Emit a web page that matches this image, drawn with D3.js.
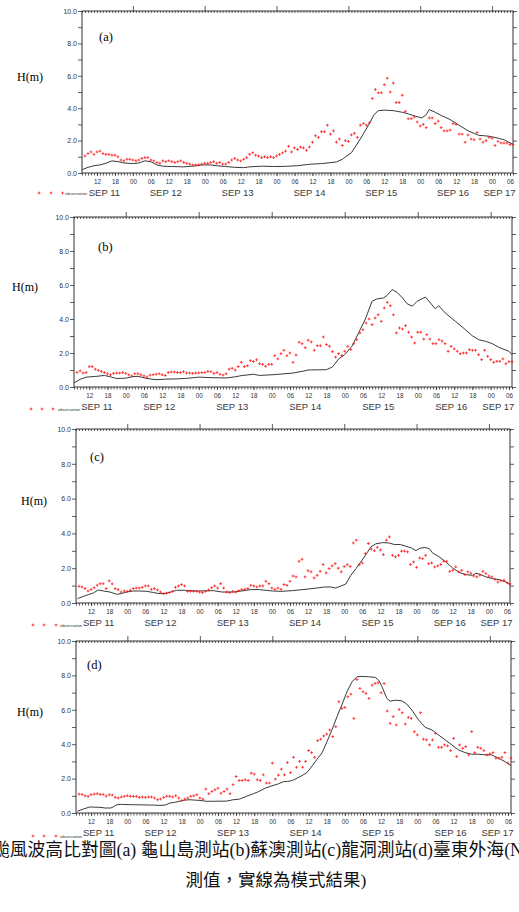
<!DOCTYPE html>
<html>
<head>
<meta charset="utf-8">
<script src="https://cdn.jsdelivr.net/npm/d3@7"></script>
<style>
  body { margin: 0; background: #fff; }
  svg { display: block; }
</style>
</head>
<body>
<script>
// hours are counted from SEP 11 00:00; the plots run from SEP 11 07 to SEP 17 07
const hourDomain = [7, 151];
const dayNames = ["SEP 11", "SEP 12", "SEP 13", "SEP 14", "SEP 15", "SEP 16", "SEP 17"];
const yTicks = [0, 1, 2, 3, 4, 5, 6, 7, 8, 9, 10];
const obsStart = 8; // first hourly observation

// observations, hourly from SEP 11 08 to SEP 17 07
const obsA = [
  1.05, 1.2, 1.3, 1.15, 1.3, 1.35, 1.2, 1.15, 1.15, 1.1,
  1.1, 1.0, 0.8, 0.75, 0.85, 0.85, 0.8, 0.75, 0.8, 0.9,
  0.95, 0.95, 0.8, 0.75, 0.65, 0.6, 0.75, 0.7, 0.75, 0.7,
  0.65, 0.7, 0.75, 0.65, 0.6, 0.55, 0.5, 0.5, 0.5, 0.55,
  0.6, 0.6, 0.65, 0.7, 0.6, 0.65, 0.55, 0.55, 0.65, 0.8,
  0.9, 0.8, 0.75, 0.85, 0.95, 1.15, 1.25, 1.1, 1.05,
  0.95, 1.0, 0.95, 1.0, 0.95, 1.05, 1.15, 1.25, 1.35, 1.65,
  1.3, 1.55, 1.45, 1.6, 1.55, 1.4, 1.6, 1.9, 2.3, 2.2,
  2.55, 2.55, 2.95, 2.4, 2.6, 1.9, 2.1, 1.7, 2.0, 1.95,
  2.35, 2.45, 2.2, 2.95, 3.05, 2.95, 3.1, 4.6, 5.15, 4.95,
  4.95, 5.45, 5.85, 5.0, 5.55, 4.35, 4.35, 4.8, 3.8, 3.35,
  3.35, 3.45, 3.15, 2.9, 3.0, 2.8, 3.4, 3.4, 3.05, 3.2,
  2.8, 2.6, 2.6, 2.65, 3.05, 3.0, 2.4, 2.4, 1.9, 2.35,
  2.1, 2.05, 2.5, 2.1, 1.9, 2.0, 2.2, 2.15, 1.7, 1.95,
  1.85, 1.85, 1.85, 1.75, 1.75
];
const obsB = [
  0.86, 0.95, 0.82, 0.85, 1.2, 1.2, 1.05, 0.98, 0.92, 0.85,
  0.78, 0.72, 0.8, 0.82, 0.82, 0.85, 0.8, 0.72, 0.65, 0.78,
  0.78, 0.72, 0.65, 0.58, 0.7, 0.72, 0.75, 0.78, 0.72, 0.68,
  0.85, 0.88, 0.88, 0.85, 0.85, 0.9, 0.82, 0.82, 0.8, 0.82,
  0.83, 0.85, 0.85, 0.92, 0.9, 0.8, 0.85, 0.75, 0.7, 0.78,
  1.05, 1.1, 1.0, 1.2, 1.45, 1.2, 1.25, 1.55, 1.5, 1.6,
  1.37, 1.33, 1.22, 1.33, 1.33, 1.84, 1.65, 1.96, 2.16, 1.84,
  2.0, 1.45, 1.88, 2.63, 2.55, 2.31, 2.75, 2.65, 2.16, 2.43,
  2.43, 2.94, 2.5, 2.4, 2.08, 1.76, 1.96, 1.85, 2.1, 2.39,
  2.2, 2.55, 2.78, 3.18, 3.37, 3.76, 4.0, 3.67, 4.06, 4.25,
  3.86, 4.65, 4.98, 4.78, 4.25, 3.18, 3.47, 3.41, 3.61, 3.22,
  2.94, 2.59, 3.22, 3.22, 2.82, 3.08, 2.82, 2.55, 2.55, 2.78,
  2.7, 2.55, 2.1, 2.39, 2.24, 2.1, 1.96, 2.0, 2.0, 2.2,
  2.16, 2.16, 1.9, 1.61, 2.16, 1.8, 1.61, 1.45, 1.51, 1.51,
  1.65, 1.37, 1.49, 1.49
];
const obsC = [
  0.96, 0.92, 0.83, 0.69, 0.78, 0.88, 1.02, 1.11, 1.11, 0.83,
  1.27, 1.1, 0.83, 0.77, 0.63, 0.69, 0.67, 0.73, 0.83, 0.86,
  0.86, 0.9, 0.98, 0.98, 0.79, 0.83, 0.75, 0.63, 0.54, 0.56,
  0.6, 0.67, 0.9, 0.98, 1.06, 0.98, 0.67, 0.67, 0.67, 0.67,
  0.63, 0.6, 0.67, 0.75, 0.88, 0.98, 0.86, 1.11, 0.86, 0.63,
  0.6, 0.67, 0.63, 0.71, 0.77, 0.79, 0.83, 1.02, 0.98, 0.92,
  0.98, 0.98, 1.25, 1.11, 0.86, 0.79, 0.86, 0.79, 1.06, 1.02,
  1.25, 1.55, 1.5, 2.4, 2.51, 1.5, 1.86, 1.79, 1.44, 1.59,
  1.82, 2.21, 1.73, 1.98, 2.13, 2.26, 2.0, 1.79,
  2.1, 2.2, 2.1, 3.45, 3.61, 2.2, 2.3, 2.84, 3.42, 3.1,
  3.0, 3.2, 3.05, 2.78, 3.61, 3.8, 2.74, 2.65, 2.74, 2.98,
  2.98, 2.94, 2.21, 2.36, 2.05, 2.59, 2.55, 2.74, 2.26, 2.3,
  2.07, 2.13, 2.21, 2.4, 2.4, 1.82, 1.88, 2.07, 1.79, 1.88,
  1.63, 1.79, 1.71, 1.55, 1.5, 1.6, 1.82, 1.69, 1.55, 1.5,
  1.36, 1.21, 1.29, 1.31, 1.17, 1.1
];
const obsD = [
  1.1, 1.08, 1.0, 0.97, 1.07, 1.1, 1.12, 1.08, 1.08, 0.98,
  1.06, 1.04, 0.91, 0.87, 0.93, 0.97, 1.0, 0.97, 0.97, 0.97,
  0.91, 0.93, 0.91, 0.93, 0.93, 0.87, 0.77, 0.81, 0.91, 0.97,
  0.97, 0.93, 1.0, 0.87, 0.73, 0.81, 0.87, 0.97, 1.0, 1.06,
  0.87, 0.81, 1.39, 1.12, 1.25, 1.35, 1.44, 1.15, 1.25, 1.39,
  1.12, 1.65, 2.12, 1.89, 1.89, 1.93, 1.89, 2.32, 2.26, 1.93,
  1.89, 2.22, 1.74, 1.74, 2.9, 1.97, 2.2, 2.55, 2.22, 2.93,
  2.35, 3.24, 2.66, 3.0, 2.66, 3.0, 3.63, 3.51, 3.24, 4.21,
  4.29, 4.48, 4.59, 4.83, 4.44, 5.02, 6.47, 6.08, 6.14, 6.76,
  6.91, 5.5, 7.76, 7.24, 7.05, 6.95, 6.66, 7.43, 7.53, 7.57,
  6.99, 7.53, 5.93, 5.21, 5.6, 5.12, 6.02, 5.83, 5.17, 5.56,
  5.5, 4.73, 4.54, 5.83, 4.29, 4.25, 3.96, 4.25, 4.63, 3.82,
  3.82, 3.96, 3.9, 3.63, 4.34, 3.28, 3.96, 3.76, 3.86, 3.38,
  4.73, 3.51, 3.82, 3.76, 3.63, 3.38, 3.44, 3.51, 3.19, 3.19,
  3.24, 3.51, 2.9, 3.19
];

// model results, [hour, H]
const modelA = [[7,0.2],[9,0.35],[11,0.45],[13,0.5],[15,0.6],[17,0.75],[19,0.7],[21,0.62],[24,0.58],[26,0.62],[28,0.75],[30,0.7],[32,0.5],[34,0.42],[37,0.4],[41,0.38],[45,0.44],[47,0.5],[50,0.5],[52,0.45],[55,0.4],[58,0.35],[61,0.33],[63,0.38],[67,0.42],[71,0.4],[75,0.41],[79,0.45],[83,0.54],[87,0.58],[92,0.68],[94,0.85],[95,0.99],[97,1.25],[100,2.1],[103,3.05],[104.6,3.6],[106,3.85],[108,3.88],[111,3.85],[114,3.75],[116,3.65],[118.5,3.5],[120.5,3.4],[122,3.6],[123,3.92],[125,3.75],[127,3.55],[130,3.3],[133,2.95],[136,2.6],[139.5,2.33],[143,2.27],[146,2.15],[148,2.05],[151,1.77]];
const modelB = [[7,0.25],[9,0.45],[11,0.58],[14,0.62],[17,0.68],[19,0.6],[21,0.5],[24,0.52],[26,0.6],[28,0.63],[31,0.5],[34,0.43],[37,0.46],[41,0.48],[44,0.51],[48,0.58],[52,0.55],[57,0.53],[60,0.6],[62,0.67],[66,0.75],[68,0.68],[73,0.73],[79,0.82],[82,0.92],[84,1.0],[90,1.02],[92,1.18],[94,1.65],[96,1.9],[98.4,2.4],[100.6,3.2],[102.8,4.0],[105,5.05],[106.6,5.18],[108.8,5.24],[110,5.4],[111.6,5.73],[113.2,5.57],[115,5.24],[116.5,4.9],[118.2,4.75],[119.8,5.04],[122.5,5.29],[124.2,4.94],[125.8,4.6],[126.9,4.78],[129.1,4.35],[132.4,3.86],[135.7,3.37],[137.9,3.02],[140.1,2.78],[142.3,2.69],[144.5,2.55],[146.7,2.33],[150,2.1],[151,1.9]];
const modelC = [[7.5,0.25],[9.4,0.38],[11.1,0.48],[12.8,0.58],[14.4,0.75],[16.1,0.69],[18.3,0.63],[20.5,0.5],[22,0.54],[23.8,0.63],[26,0.69],[28.2,0.69],[30.5,0.67],[32.7,0.6],[34.5,0.54],[36.5,0.54],[38.5,0.63],[40.4,0.73],[43,0.73],[47.1,0.69],[52.6,0.71],[55.5,0.63],[59.2,0.63],[62,0.69],[64.8,0.77],[67.8,0.77],[72.2,0.69],[75,0.67],[78.8,0.71],[83.3,0.79],[87.7,0.88],[89.5,0.92],[91.6,0.92],[93.2,0.86],[94.9,0.98],[96.5,1.09],[98.2,1.59],[99.9,1.98],[101.5,2.36],[103.2,2.78],[104.8,3.22],[106.5,3.4],[108.7,3.47],[110.9,3.45],[112.6,3.36],[114.6,3.36],[116.5,3.26],[118.2,3.17],[119.8,3.01],[120.9,3.13],[122.5,3.19],[124.2,3.13],[125.3,2.88],[127.5,2.65],[129.7,2.36],[131.9,2.02],[134.2,1.75],[136.4,1.63],[138.6,1.59],[139.7,1.71],[141,1.65],[143,1.5],[145.2,1.4],[147.4,1.34],[149.6,1.21],[151,1.05]];
const modelD = [[7.5,0.1],[9.4,0.23],[11.6,0.35],[14.9,0.33],[16.6,0.29],[18.5,0.29],[19.3,0.35],[20.5,0.48],[22.1,0.5],[26,0.48],[32.6,0.46],[34.8,0.44],[36.5,0.46],[38.1,0.58],[39.7,0.62],[41.4,0.69],[43,0.75],[44.7,0.77],[48,0.73],[50.2,0.68],[56.8,0.69],[59,0.77],[61.2,0.81],[63.4,0.97],[65.7,1.12],[67.5,1.25],[69.7,1.45],[71.9,1.58],[74.1,1.7],[75.8,1.83],[77,1.83],[78.6,1.89],[80.2,2.03],[81.9,2.18],[83.5,2.36],[85.2,2.74],[86.8,3.13],[88.5,3.51],[90.1,4.15],[91.8,4.86],[93.4,5.6],[95.1,6.33],[96.7,7.05],[98.4,7.63],[100,7.92],[101.7,7.94],[103.9,7.92],[106.1,7.88],[107.2,7.72],[108.3,7.34],[109.9,6.66],[111,6.5],[112.7,6.56],[114.9,6.52],[116.5,6.33],[118.2,5.98],[120.4,5.41],[122.6,4.98],[124.8,4.83],[127,4.54],[129.2,4.25],[131.4,3.96],[133.6,3.67],[135.8,3.51],[138,3.42],[140.2,3.42],[142.4,3.38],[144.6,3.38],[146.8,3.19],[149,2.99],[151,2.75]];

const captionLine1 = "颱風波高比對圖(a)  龜山島測站(b)蘇澳測站(c)龍洞測站(d)臺東外海(N";
const captionLine2 = "測值，實線為模式結果)";

// page layout of the four frames
const panels = [
  { tag: "(a)", obs: obsA, model: modelA, left: 82, top: 11, right: 513, bottom: 173, hX: 17, hY: 81, tX: 99, tY: 41, legY: 193, legX: [39, 51, 62.5], legT: 65 },
  { tag: "(b)", obs: obsB, model: modelB, left: 74, top: 217, right: 512, bottom: 387, hX: 12, hY: 291, tX: 98, tY: 251, legY: 409, legX: [31, 42, 53], legT: 58 },
  { tag: "(c)", obs: obsC, model: modelC, left: 76, top: 429, right: 510, bottom: 603, hX: 21, hY: 505, tX: 90, tY: 461, legY: 625, legX: [33, 44, 56], legT: 60 },
  { tag: "(d)", obs: obsD, model: modelD, left: 76, top: 641, right: 511, bottom: 813, hX: 17, hY: 716, tX: 87, tY: 669, legY: 836, legX: [33, 44, 56], legT: 60 }
];

const width = 519, height = 912;
const axisColor = "#333";
const obsColor = "#ff1a1a";
const plus = "M-1.4,0H1.4M0,-1.4V1.4";

const svg = d3.select("body").append("svg")
  .attr("width", width)
  .attr("height", height);

const pad2 = d => String(d % 24).padStart(2, "0");

panels.forEach(p => {
  const x = d3.scaleLinear().domain(hourDomain).range([p.left, p.right]);
  const y = d3.scaleLinear().domain([0, 10]).range([p.bottom, p.top]);
  const g = svg.append("g");

  const allHours = d3.range(hourDomain[0], hourDomain[1] + 1);
  const labelHours = allHours.filter(h => h % 6 === 0 && h >= 12);
  const dayHours = allHours.filter(h => h % 24 === 0);

  const styleAxis = sel => {
    sel.select(".domain").remove();
    sel.selectAll("line").attr("stroke", axisColor).attr("stroke-width", 0.8);
    sel.selectAll("text").attr("fill", "#333").attr("font-family", "Liberation Sans, Arial, sans-serif");
  };

  // bottom: hourly comb + labelled 6-hourly ticks
  g.append("g").attr("transform", `translate(0,${p.bottom})`)
    .call(d3.axisBottom(x).tickValues(allHours).tickSize(2.5).tickFormat(""))
    .call(styleAxis);
  g.append("g").attr("transform", `translate(0,${p.bottom})`)
    .call(d3.axisBottom(x).tickValues(labelHours).tickSize(3).tickPadding(3.5).tickFormat(pad2))
    .call(styleAxis)
    .selectAll("text").attr("font-size", 6.3);

  // top: inward hourly comb, outward day ticks
  g.append("g").attr("transform", `translate(0,${p.top})`)
    .call(d3.axisTop(x).tickValues(allHours).tickSize(-2).tickFormat(""))
    .call(styleAxis);
  g.append("g").attr("transform", `translate(0,${p.top})`)
    .call(d3.axisTop(x).tickValues(dayHours).tickSize(5).tickFormat(""))
    .call(styleAxis);

  // left and right value axes
  g.append("g").attr("transform", `translate(${p.left},0)`)
    .call(d3.axisLeft(y).tickValues(yTicks).tickSize(4).tickPadding(1)
      .tickFormat(d => d % 2 === 0 ? d.toFixed(1) : ""))
    .call(styleAxis)
    .selectAll("text").attr("font-size", 7);
  g.append("g").attr("transform", `translate(${p.right},0)`)
    .call(d3.axisRight(y).tickValues(yTicks).tickSize(4).tickFormat(""))
    .call(styleAxis);

  // frame
  g.append("rect")
    .attr("x", p.left).attr("y", p.top)
    .attr("width", p.right - p.left).attr("height", p.bottom - p.top)
    .attr("fill", "none").attr("stroke", axisColor).attr("stroke-width", 1);

  // day names, centred on the visible part of each day
  dayNames.forEach((name, i) => {
    const a = Math.max(i * 24, hourDomain[0]);
    const b = Math.min((i + 1) * 24, hourDomain[1]);
    g.append("text")
      .attr("x", x((a + b) / 2) - 3)
      .attr("y", p.bottom + 23)
      .attr("text-anchor", "middle")
      .attr("font-family", "Liberation Sans, Arial, sans-serif")
      .attr("font-size", 9.5)
      .attr("fill", "#3a3a3a")
      .text(name);
  });

  // model: solid line
  g.append("path")
    .datum(p.model)
    .attr("fill", "none")
    .attr("stroke", "#3a3a3a")
    .attr("stroke-width", 1)
    .attr("d", d3.line().x(d => x(d[0])).y(d => y(d[1])));

  // observations: red crosses
  g.append("g").selectAll("path")
    .data(p.obs)
    .join("path")
    .attr("transform", (d, i) => `translate(${x(obsStart + i)},${y(d)})`)
    .attr("d", plus)
    .attr("stroke", obsColor)
    .attr("stroke-width", 0.8);

  // labels
  g.append("text")
    .attr("x", p.hX).attr("y", p.hY)
    .attr("font-family", "Liberation Serif, Times New Roman, serif")
    .attr("font-size", 12)
    .text("H(m)");
  g.append("text")
    .attr("x", p.tX).attr("y", p.tY)
    .attr("font-family", "Liberation Serif, Times New Roman, serif")
    .attr("font-size", 12.5)
    .text(p.tag);

  // legend under the axis
  g.append("g").selectAll("path")
    .data(p.legX)
    .join("path")
    .attr("transform", d => `translate(${d},${p.legY})`)
    .attr("d", plus)
    .attr("stroke", obsColor)
    .attr("stroke-width", 0.8);
  g.append("text")
    .attr("x", p.legT).attr("y", p.legY + 1.5)
    .attr("font-family", "Liberation Sans, Arial, sans-serif")
    .attr("font-size", 4.3)
    .attr("fill", "#333")
    .text("observation");
});

// caption (runs past both edges, as in the scanned page)
const capFont = "Liberation Serif, Noto Sans CJK TC, serif";
svg.append("text")
  .attr("x", -8).attr("y", 856)
  .attr("font-family", capFont)
  .attr("font-size", 17.8)
  .attr("fill", "#111")
  .text(captionLine1);
svg.append("text")
  .attr("x", 276).attr("y", 886)
  .attr("text-anchor", "middle")
  .attr("font-family", capFont)
  .attr("font-size", 17.5)
  .attr("fill", "#111")
  .text(captionLine2);
</script>
</body>
</html>
